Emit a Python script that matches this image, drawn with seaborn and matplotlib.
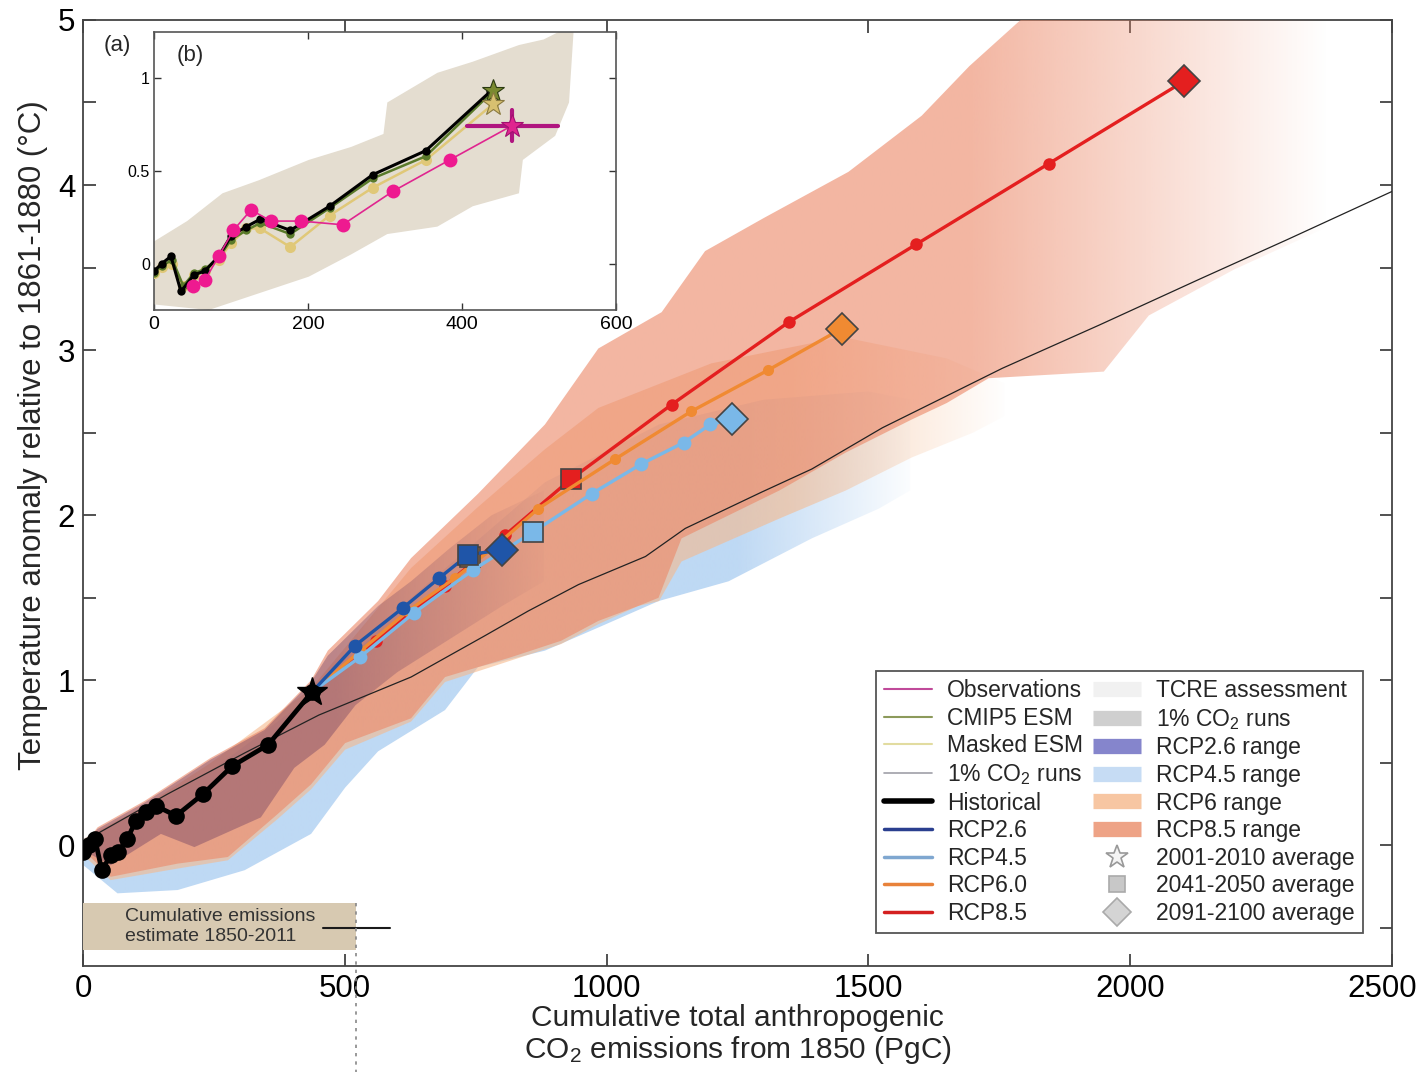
import numpy as np
import matplotlib
matplotlib.use("Agg")
import matplotlib.pyplot as plt
import matplotlib.colors as mcolors
from matplotlib.lines import Line2D
from matplotlib.transforms import ScaledTranslation
import seaborn as sns

sns.set_theme(style="ticks")
plt.rcParams['font.family'] = ['Liberation Sans', 'DejaVu Sans']
plt.rcParams['mathtext.default'] = 'regular'

# ---------------- data ----------------
hist_x = [0, 10, 22, 35, 52, 66, 84, 100, 120, 138, 177, 228, 284, 353, 437]
hist_y = [-0.04, 0.0, 0.04, -0.15, -0.06, -0.04, 0.04, 0.15, 0.20, 0.24, 0.18, 0.31, 0.48, 0.61, 0.93]

rcp26_x = [437, 519, 611, 680, 735, 798]
rcp26_y = [0.93, 1.21, 1.44, 1.62, 1.76, 1.79]
rcp26_sq = (735, 1.76)
rcp26_di = (800, 1.79)

rcp45_x = [437, 528, 632, 745, 860, 971, 1066, 1147, 1198]
rcp45_y = [0.93, 1.14, 1.41, 1.67, 1.90, 2.13, 2.31, 2.44, 2.55]
rcp45_sq = (860, 1.90)
rcp45_di = (1239, 2.58)

rcp60_x = [437, 530, 620, 710, 790, 869, 1016, 1162, 1309]
rcp60_y = [0.93, 1.18, 1.42, 1.62, 1.82, 2.04, 2.34, 2.63, 2.88]
rcp60_sq = (738, 1.75)
rcp60_di = (1449, 3.13)

rcp85_x = [437, 560, 690, 806, 932, 1124, 1348, 1591, 1845]
rcp85_y = [0.93, 1.24, 1.57, 1.88, 2.22, 2.67, 3.17, 3.64, 4.13]
rcp85_sq = (932, 2.22)
rcp85_di = (2104, 4.63)

star_2001 = (437, 0.93)

one_x = [20, 160, 308, 450, 626, 767, 850, 946, 1074, 1150, 1296, 1392, 1527, 1648, 1756, 1940, 2133, 2301, 2500]
one_y = [0.06, 0.31, 0.56, 0.79, 1.02, 1.27, 1.42, 1.58, 1.75, 1.92, 2.14, 2.28, 2.53, 2.72, 2.89, 3.15, 3.43, 3.67, 3.96]

# ranges (upper and lower edges)
r85_up_x = [0, 27, 117, 243, 346, 435, 467, 563, 626, 754, 882, 984, 1105, 1188, 1300, 1462, 1602, 1693, 1784, 1900, 2450]
r85_up_y = [0.0, 0.11, 0.27, 0.53, 0.71, 1.0, 1.18, 1.48, 1.74, 2.13, 2.55, 3.01, 3.23, 3.6, 3.8, 4.08, 4.42, 4.72, 4.98, 5.3, 5.8]
r85_lo_x = [0, 52, 180, 276, 371, 435, 500, 626, 691, 817, 913, 984, 1060, 1099, 1143, 1330, 1457, 1583, 1650, 1730, 1950, 2036, 2200, 2450]
r85_lo_y = [-0.03, -0.19, -0.11, -0.07, 0.19, 0.37, 0.62, 0.77, 1.02, 1.14, 1.24, 1.36, 1.45, 1.50, 1.86, 2.15, 2.38, 2.58, 2.68, 2.83, 2.87, 3.21, 3.49, 3.85]

r60_up_x = [0, 117, 243, 435, 626, 754, 882, 984, 1200, 1450, 1650, 1760]
r60_up_y = [0.04, 0.24, 0.5, 0.95, 1.68, 2.05, 2.4, 2.65, 2.92, 3.08, 2.95, 2.8]
r60_lo_x = [0, 52, 180, 276, 371, 435, 500, 626, 691, 817, 913, 984, 1060, 1100, 1143, 1330, 1457, 1583, 1700, 1760]
r60_lo_y = [-0.06, -0.21, -0.14, -0.09, 0.16, 0.34, 0.58, 0.75, 0.99, 1.12, 1.22, 1.34, 1.45, 1.48, 1.72, 1.98, 2.15, 2.35, 2.5, 2.6]

r45_up_x = [0, 117, 243, 435, 626, 882, 1100, 1300, 1500, 1580]
r45_up_y = [0.04, 0.22, 0.45, 0.9, 1.5, 2.2, 2.55, 2.7, 2.75, 2.7]
r45_lo_x = [0, 65, 180, 308, 435, 500, 563, 691, 754, 882, 984, 1099, 1233, 1392, 1520, 1580]
r45_lo_y = [-0.12, -0.29, -0.27, -0.15, 0.07, 0.35, 0.57, 0.82, 1.08, 1.18, 1.32, 1.48, 1.6, 1.86, 2.04, 2.15]

r26_up_x = [0, 27, 117, 243, 346, 435, 467, 563, 626, 700, 780, 880]
r26_up_y = [0.0, 0.1, 0.26, 0.52, 0.70, 0.99, 1.15, 1.45, 1.6, 1.8, 2.0, 2.15]
r26_lo_x = [0, 52, 148, 212, 339, 403, 461, 520, 600, 700, 800, 880]
r26_lo_y = [-0.03, -0.12, 0.07, -0.01, 0.17, 0.47, 0.61, 0.85, 1.05, 1.25, 1.45, 1.6]

emis_box_x = [0, 521]
emis_box_lo, emis_box_hi = -0.634, -0.35
emis_est_x = [458, 586]
emis_est_y = -0.50
emis_2011_x = 520

# inset (b)
ins_up_x = [0, 43, 89, 136, 201, 256, 298, 303, 368, 414, 474, 506, 530, 545]
ins_up_y = [0.12, 0.23, 0.38, 0.45, 0.56, 0.63, 0.70, 0.87, 1.03, 1.09, 1.18, 1.21, 1.26, 1.26]
ins_lo_x = [0, 71, 136, 201, 256, 303, 368, 414, 474, 479, 521, 539, 545]
ins_lo_y = [-0.22, -0.25, -0.16, -0.07, 0.05, 0.16, 0.20, 0.31, 0.38, 0.56, 0.69, 0.87, 1.26]

obs_x = [50, 66, 84, 103, 126, 152, 191, 245, 310, 384]
obs_y = [-0.12, -0.09, 0.04, 0.18, 0.29, 0.23, 0.23, 0.21, 0.39, 0.56]
obs_star = (465, 0.745)
obs_xerr = (407, 525)
obs_yerr = (0.66, 0.83)

esm_x = [0, 10, 24, 38, 52, 66, 84, 100, 120, 138, 177, 228, 284, 353, 440]
esm_y = [-0.05, -0.01, 0.02, -0.12, -0.05, -0.03, 0.03, 0.13, 0.18, 0.22, 0.16, 0.30, 0.46, 0.58, 0.93]
mask_y = [-0.05, -0.02, 0.0, -0.12, -0.06, -0.04, 0.02, 0.11, 0.19, 0.19, 0.09, 0.26, 0.41, 0.56, 0.86]

# ---------------- figure ----------------
fig = plt.figure(figsize=(14.22, 10.72), dpi=100)
ax = fig.add_axes([0.0587, 0.0989, 0.9199, 0.8825])

def range_fill(ax, ux, uy, lx, ly, color, alpha, fade0, fade1, z):
    px = list(ux) + list(lx)[::-1]
    py = list(uy) + list(ly)[::-1]
    patch = ax.fill(px, py, facecolor='none', edgecolor='none')[0]
    xs = np.linspace(0, 2500, 800)
    a = alpha * np.clip((fade1 - xs) / (fade1 - fade0), 0, 1)
    img = np.zeros((2, len(xs), 4))
    img[..., :3] = mcolors.to_rgb(color)
    img[..., 3] = a
    im = ax.imshow(img, extent=[0, 2500, -1, 6], origin='lower', aspect='auto',
                   interpolation='bilinear', zorder=z)
    im.set_clip_path(patch)

range_fill(ax, r45_up_x, r45_up_y, r45_lo_x, r45_lo_y, '#b3d2f2', 0.85, 1250, 1600, 1)
range_fill(ax, r60_up_x, r60_up_y, r60_lo_x, r60_lo_y, '#f6b98c', 0.6, 1350, 1770, 2)
range_fill(ax, r85_up_x, r85_up_y, r85_lo_x, r85_lo_y, '#ec8a6a', 0.62, 1700, 2380, 3)
range_fill(ax, r26_up_x, r26_up_y, r26_lo_x, r26_lo_y, '#5a2f5c', 0.36, 480, 900, 4)

# 1% CO2 runs mean
sns.lineplot(x=one_x, y=one_y, ax=ax, color='#222222', lw=0.9, sort=False, estimator=None, zorder=5)

# emissions box
ax.fill_between(emis_box_x, emis_box_lo, emis_box_hi, color='#d7c9b1', lw=0, zorder=5)
ax.text(80, (emis_box_lo + emis_box_hi) / 2, 'Cumulative emissions\nestimate 1850-2011',
        fontsize=14, va='center', ha='left', color='#333333', linespacing=1.2, zorder=6)
ax.plot(emis_est_x, [emis_est_y, emis_est_y], color='k', lw=1.5, zorder=6)
ax.plot([emis_2011_x, emis_2011_x], [emis_box_hi, -1.45], color='#888888', lw=1.2,
        ls=(0, (2, 3)), clip_on=False, zorder=6)

# scenario lines
def scen(x, y, col, sq, di, z, ms=9, lw=2.4):
    sns.lineplot(x=list(x) + [di[0]], y=list(y) + [di[1]], ax=ax, color=col, lw=lw,
                 sort=False, estimator=None, zorder=z)
    ax.plot(x, y, 'o', ms=ms, color=col, mew=0, zorder=z)
    ax.plot([sq[0]], [sq[1]], 's', ms=15, mfc=col, mec='#444444', mew=1.2, zorder=z + 0.5)
    ax.plot([di[0]], [di[1]], 'D', ms=16, mfc=col, mec='#444444', mew=1.2, zorder=z + 0.5)

scen(rcp85_x, rcp85_y, '#e41f1f', rcp85_sq, rcp85_di, 6)
scen(rcp60_x, rcp60_y, '#f08a32', rcp60_sq, rcp60_di, 7, ms=8)
scen(rcp45_x, rcp45_y, '#7ab8e8', rcp45_sq, rcp45_di, 8, ms=10)
scen(rcp26_x, rcp26_y, '#1f55a8', rcp26_sq, rcp26_di, 9, ms=10)

sns.lineplot(x=hist_x, y=hist_y, ax=ax, color='black', lw=3.4, marker='o', markersize=12,
             markeredgewidth=0, sort=False, estimator=None, zorder=11)
ax.plot([star_2001[0]], [star_2001[1]], '*', ms=22, color='black', zorder=12)

ax.set_xlim(0, 2500)
ax.set_ylim(-0.73, 5)
ax.set_xticks([0, 500, 1000, 1500, 2000, 2500])
ax.set_yticks([0, 1, 2, 3, 4, 5])
ax.set_yticks(np.arange(-0.5, 5.0, 0.5), minor=True)
ax.tick_params(which='both', direction='in', top=True, right=True, colors='#333333', labelcolor='black')
ax.tick_params(which='major', length=9, width=1.2, labelsize=22.5, pad=6)
ax.tick_params(which='minor', length=9, width=1.2)
for s in ax.spines.values():
    s.set_color('#444444')
    s.set_linewidth(1.3)
fig.canvas.draw()
lab = ax.get_xticklabels()[-1]
lab.set_transform(lab.get_transform() + ScaledTranslation(-9 / 100, 0, fig.dpi_scale_trans))

ax.set_xlabel('Cumulative total anthropogenic\nCO$_2$ emissions from 1850 (PgC)', fontsize=21.5,
              linespacing=1.08, labelpad=0)
ax.set_ylabel('Temperature anomaly relative to 1861-1880 (°C)', fontsize=22.5)
ax.yaxis.set_label_coords(-0.027, 0.561)

# legend
handles = [
    Line2D([], [], color='#c04a9a', lw=1.5),
    Line2D([], [], color='#8c9a5b', lw=1.5),
    Line2D([], [], color='#e2dca0', lw=1.5),
    Line2D([], [], color='#a0a0a8', lw=1.2),
    Line2D([], [], color='black', lw=4),
    Line2D([], [], color='#2a3f8f', lw=2.5),
    Line2D([], [], color='#7fa7d0', lw=2.5),
    Line2D([], [], color='#e8823a', lw=2.5),
    Line2D([], [], color='#d42020', lw=2.5),
    Line2D([], [], color='#f1f1f1', lw=11, solid_capstyle='butt'),
    Line2D([], [], color='#cfcfcf', lw=11, solid_capstyle='butt'),
    Line2D([], [], color='#8585cc', lw=11, solid_capstyle='butt'),
    Line2D([], [], color='#c6dcf4', lw=11, solid_capstyle='butt'),
    Line2D([], [], color='#f7c6a2', lw=11, solid_capstyle='butt'),
    Line2D([], [], color='#eea386', lw=11, solid_capstyle='butt'),
    Line2D([], [], ls='none', marker='*', ms=17, mfc='#f4f4f4', mec='#999999', mew=1.2),
    Line2D([], [], ls='none', marker='s', ms=11, mfc='#c8c8c8', mec='#aaaaaa', mew=1.2),
    Line2D([], [], ls='none', marker='D', ms=14, mfc='#d4d4d4', mec='#aaaaaa', mew=1.2),
]
labels = ['Observations', 'CMIP5 ESM', 'Masked ESM', '1% CO$_2$ runs', 'Historical',
          'RCP2.6', 'RCP4.5', 'RCP6.0', 'RCP8.5',
          'TCRE assessment', '1% CO$_2$ runs', 'RCP2.6 range', 'RCP4.5 range', 'RCP6 range',
          'RCP8.5 range', '2001-2010 average', '2041-2050 average', '2091-2100 average']
leg = ax.legend(handles, labels, ncol=2, loc='lower right', bbox_to_anchor=(0.978, 0.035),
                fontsize=16.5, frameon=True, fancybox=False, framealpha=1, edgecolor='#555555',
                handlelength=2.1, handletextpad=0.65, columnspacing=0.45, labelspacing=0.2,
                borderpad=0.35, borderaxespad=0)
leg.get_frame().set_linewidth(1.3)
leg.set_zorder(20)

fig.text(117 / 1422, 1 - 45 / 1072, '(a)', fontsize=16, ha='center', va='center')

# ---------------- inset (b) ----------------
axi = fig.add_axes([0.1083, 0.7108, 0.3249, 0.2593])
axi.set_facecolor('white')
axi.fill(ins_up_x + ins_lo_x[::-1], ins_up_y + ins_lo_y[::-1], color='#e4ddd0', lw=0, zorder=1)

sns.lineplot(x=esm_x, y=mask_y, ax=axi, color='#e0c878', lw=1.8, marker='o', markersize=8,
             markeredgewidth=0, sort=False, estimator=None, zorder=3)
sns.lineplot(x=esm_x, y=esm_y, ax=axi, color='#5a7a2a', lw=1.8, marker='o', markersize=6,
             markeredgewidth=0, sort=False, estimator=None, zorder=4)
sns.lineplot(x=hist_x, y=hist_y, ax=axi, color='black', lw=2.2, marker='o', markersize=6,
             markeredgewidth=0, sort=False, estimator=None, zorder=5)
sns.lineplot(x=obs_x + [obs_star[0]], y=obs_y + [obs_star[1]], ax=axi, color='#e0258f', lw=1.2,
             sort=False, estimator=None, zorder=6)
axi.plot(obs_x, obs_y, 'o', ms=10, color='#ee1a90', mew=0, zorder=6)
axi.plot([esm_x[-1]], [esm_y[-1]], '*', ms=17, mfc='#7a8a30', mec='#2a3a10', mew=0.8, zorder=7)
axi.plot([esm_x[-1]], [mask_y[-1]], '*', ms=17, mfc='#d8c070', mec='#8a7a40', mew=0.8, zorder=7)
axi.plot(list(obs_xerr), [obs_star[1]] * 2, color='#b0157f', lw=3, zorder=7)
axi.plot([obs_star[0]] * 2, list(obs_yerr), color='#b0157f', lw=3, zorder=7)
axi.plot([obs_star[0]], [obs_star[1]], '*', ms=17, color='#e0258f', mec='#a01070', mew=0.8, zorder=8)

axi.set_xlim(0, 600)
axi.set_ylim(-0.25, 1.25)
axi.set_xticks([0, 200, 400, 600])
axi.set_yticks([0, 0.5, 1])
axi.set_yticklabels(['0', '0.5', '1'])
axi.tick_params(direction='in', top=True, right=True, length=5, width=1, colors='#333333',
                labelcolor='black')
axi.tick_params(axis='x', labelsize=14, pad=4)
axi.tick_params(axis='y', labelsize=11.5, pad=3)
for s in axi.spines.values():
    s.set_color('#555555')
    s.set_linewidth(1.2)
axi.text(0.078, 0.917, '(b)', transform=axi.transAxes, fontsize=16, ha='center', va='center')

fig.savefig('out.png', dpi=100)
